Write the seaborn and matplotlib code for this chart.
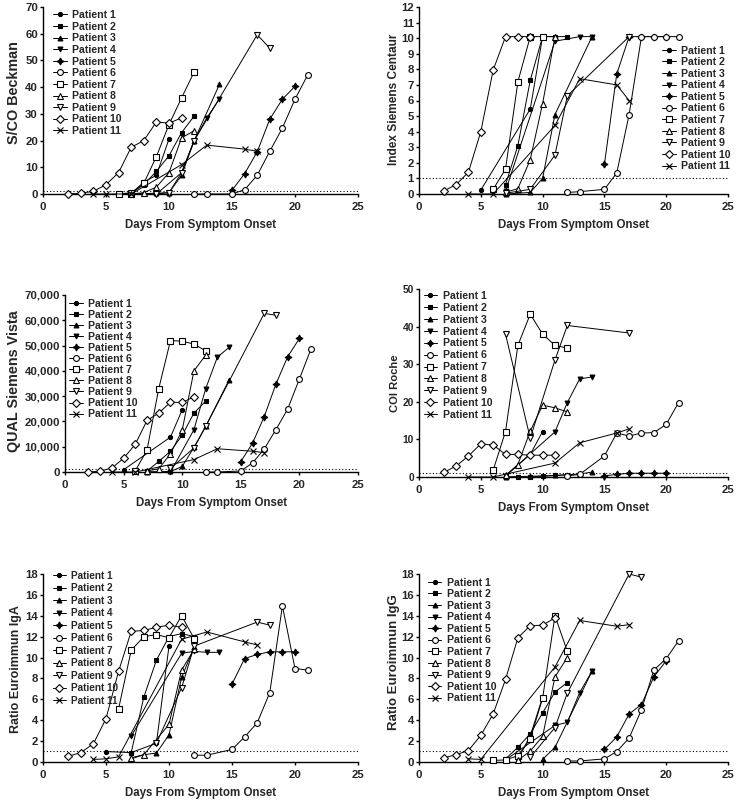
import matplotlib
matplotlib.use("Agg")
import matplotlib.pyplot as plt
import seaborn as sns
from matplotlib.ticker import FuncFormatter, MultipleLocator

sns.set_theme(style="ticks")
plt.rcParams["font.family"] = ["Liberation Sans", "DejaVu Sans"]
plt.rcParams["font.weight"] = "bold"
plt.rcParams["axes.labelweight"] = "bold"

patients = [f"Patient {i}" for i in range(1, 12)]

# ---- S/CO Beckman ----
beckman_days = [
    [7, 8, 9, 10],
    [6, 7, 8, 9, 10, 11, 12],
    [7, 9, 10, 11, 12, 14],
    [7, 9, 11, 12, 13, 14],
    [15, 16, 17, 18, 19, 20],
    [12, 13, 15, 16, 17, 18, 19, 20, 21],
    [6, 7, 8, 9, 10, 11, 12],
    [7, 8, 9, 10, 11, 12],
    [9, 10, 11, 12, 17, 18],
    [2, 3, 4, 5, 6, 7, 8, 9, 10, 11],
    [4, 5, 7, 11, 13, 16, 17],
]
beckman_vals = [
    [0, 4.5, 7, 20.6],
    [0, 0.3, 3.5, 8.5, 14.3, 23, 29.2],
    [0, 0.3, 0.5, 7, 20, 41],
    [0, 0, 8, 20, 28.5, 35.5],
    [1.4, 7.6, 15.8, 28, 35.5, 40.3],
    [0, 0, 0, 1.6, 7, 16, 24.7, 35.5, 44.5],
    [0, 0.5, 4, 14, 26, 36, 45.7],
    [0, 0.5, 2.6, 8, 21, 23.7],
    [0, 0.5, 8, 20, 59.6, 54.6],
    [0, 0.3, 1, 3.5, 8, 17.5, 20, 27, 26.5, 28.5],
    [0, 0, 0, 11, 18.3, 16.8, 16],
]

# ---- Index Siemens Centaur ----
centaur_days = [
    [5, 9, 10, 11],
    [7, 8, 9, 10, 11, 12],
    [7, 9, 10, 11, 14],
    [7, 11, 13, 14],
    [15, 16, 17, 18, 19, 20],
    [12, 13, 15, 16, 17, 18, 19, 20, 21],
    [6, 7, 8, 9, 10],
    [7, 8, 9, 10, 11],
    [7, 9, 11, 12, 17],
    [2, 3, 4, 5, 6, 7, 8, 9],
    [4, 6, 11, 13, 16, 17],
]
centaur_vals = [
    [0.25, 5.45, 10.1, 10.1],
    [0.6, 3.1, 7.3, 10.1, 10.1, 10.1],
    [0, 0.1, 1.0, 5.1, 10.1],
    [0.2, 9.8, 10.1, 10.1],
    [1.9, 7.7, 10.1, 10.1, 10.1, 10.1],
    [0.1, 0.15, 0.3, 1.35, 5.1, 10.1, 10.1, 10.1, 10.1],
    [0.3, 1.6, 7.2, 10.1, 10.1],
    [0.1, 0.35, 2.2, 5.8, 10.1],
    [0.05, 0.3, 2.5, 6.3, 10.1],
    [0.2, 0.6, 1.4, 4.0, 7.95, 10.1, 10.1, 10.1],
    [0, 0, 4.4, 7.4, 7.0, 6.0],
]

# ---- QUAL Siemens Vista ----
vista_days = [
    [5, 9, 10],
    [7, 8, 9, 10, 11, 12],
    [7, 9, 10, 11, 12, 14],
    [7, 9, 11, 12, 13, 14],
    [15, 16, 17, 18, 19, 20],
    [12, 13, 15, 16, 17, 18, 19, 20, 21],
    [6, 7, 8, 9, 10, 11, 12],
    [7, 8, 9, 10, 11, 12],
    [9, 11, 12, 17, 18],
    [2, 3, 4, 5, 6, 7, 8, 9, 10, 11],
    [4, 6, 11, 13, 16, 17],
]
vista_vals = [
    [900, 13800, 24600],
    [400, 4200, 8200, 14500, 23300, 28000],
    [0, 200, 2200, 9700, 18000, 36400],
    [0, 0, 16700, 32900, 45400, 49300],
    [4100, 11400, 21900, 34800, 45600, 52800],
    [0, 0, 400, 3600, 9100, 16800, 24900, 36800, 48800],
    [500, 8700, 33000, 52000, 51700, 50600, 47900],
    [400, 1300, 7200, 16500, 40000, 46200],
    [1400, 9500, 18000, 62700, 62000],
    [0, 300, 1600, 5400, 11000, 20400, 23300, 27600, 27500, 29700],
    [0, 0, 4900, 9200, 8200, 7700],
]

# ---- COI Roche ----
roche_days = [
    [7, 9, 10],
    [7, 8, 9, 10, 11, 12],
    [7, 9, 11, 12, 13, 14],
    [7, 11, 12, 13, 14],
    [15, 16, 17, 18, 19, 20],
    [12, 13, 15, 16, 17, 18, 19, 20, 21],
    [6, 7, 8, 9, 10, 11, 12],
    [7, 8, 9, 10, 11, 12],
    [7, 9, 11, 12, 17],
    [2, 3, 4, 5, 6, 7, 8, 9, 10, 11],
    [4, 6, 11, 13, 16, 17],
]
roche_vals = [
    [0.3, 6.0, 12.1],
    [0, 0, 0, 0.2, 0.4, 0.6],
    [0, 0.2, 0.4, 0.6, 0.8, 1.3],
    [0.3, 12, 19.8, 26.1, 26.6],
    [0.3, 0.7, 1.0, 1.0, 1.0, 1.0],
    [0.3, 0.7, 5.6, 11.7, 10.9, 11.7, 11.8, 14.0, 19.8],
    [1.8, 12.1, 35, 43.3, 38, 35, 34.3],
    [0.4, 3.3, 12.2, 19.1, 18.4, 17.3],
    [38, 10.3, 31.1, 40.3, 38.3],
    [1.2, 2.9, 5.6, 8.8, 8.5, 6.0, 6.0, 5.8, 5.8, 5.8],
    [0, 0, 3.7, 9.1, 11.7, 12.8],
]

# ---- Ratio Euroimmun IgA ----
iga_days = [
    [5, 7, 9, 10],
    [7, 8, 9, 10, 11, 12],
    [7, 8, 9, 10, 11, 12],
    [7, 11, 12, 13, 14],
    [15, 16, 17, 18, 19, 20],
    [12, 13, 15, 16, 17, 18, 19, 20, 21],
    [6, 7, 8, 9, 10, 11, 12],
    [7, 8, 10, 11, 12],
    [9, 11, 12, 17, 18],
    [2, 3, 4, 5, 6, 7, 8, 9, 10, 11],
    [4, 5, 6, 11, 13, 16, 17],
]
iga_vals = [
    [1.0, 0.9, 1.8, 11.1],
    [0.9, 6.2, 9.75, 12, 12.3, 12.0],
    [0.3, 0.7, 0.85, 2.6, 8.1, 11.0],
    [2.5, 10.4, 10.6, 10.5, 10.5],
    [7.45, 9.9, 10.3, 10.55, 10.55, 10.55],
    [0.65, 0.65, 1.2, 2.4, 3.75, 6.65, 14.95, 8.95, 8.8],
    [5.1, 10.7, 12.0, 12.2, 11.9, 14.0, 11.8],
    [0.4, 0.7, 3.6, 8.8, 10.8],
    [1.8, 7.1, 11.1, 13.4, 13.1],
    [0.55, 0.9, 1.75, 4.15, 8.7, 12.5, 12.6, 12.9, 13.1, 12.9],
    [0.25, 0.3, 0.5, 11.75, 12.45, 11.5, 11.2],
]

# ---- Ratio Euroimmun IgG ----
igg_days = [
    [8, 9, 10],
    [7, 8, 9, 10, 11, 12],
    [10, 11, 14],
    [7, 11, 12, 13, 14],
    [15, 16, 17, 18, 19, 20],
    [12, 13, 15, 16, 17, 18, 19, 20, 21],
    [6, 7, 8, 9, 10, 11, 12],
    [8, 9, 10, 11, 12],
    [9, 11, 12, 17, 18],
    [2, 3, 4, 5, 6, 7, 8, 9, 10, 11],
    [4, 5, 11, 13, 16, 17],
]
igg_vals = [
    [0.25, 2.5, 6.2],
    [0.3, 1.4, 2.7, 4.7, 6.7, 7.6],
    [0.25, 1.4, 8.7],
    [0.2, 3.5, 3.8, 6.65, 8.7],
    [1.2, 2.4, 4.6, 5.5, 8.15, 9.7],
    [0.1, 0.1, 0.3, 1.0, 2.3, 5.0, 8.8, 9.9, 11.6],
    [0.15, 0.2, 0.6, 2.2, 6.1, 14.0, 10.6],
    [0.15, 1.05, 2.45, 8.15, 10.0],
    [0.45, 3.3, 6.6, 18.0, 17.7],
    [0.4, 0.7, 1.1, 2.55, 4.6, 7.9, 11.9, 13.05, 13.1, 13.8],
    [0.3, 0.25, 9.1, 13.55, 13.0, 13.15],
]

# marker styles
markers = ["o", "s", "^", "v", (4, 1, 0), "o", "s", "^", "v", "D", "x"]
filled = [True, True, True, True, True, False, False, False, False, False, False]
msizes = [3.0, 3.5, 3.5, 3.5, 5.0, 4.2, 4.2, 4.5, 4.5, 4.0, 4.0]

W, H = 739, 809
fig = plt.figure(figsize=(W / 100, H / 100), dpi=100)


def add_axes(l, r, t, b):
    return fig.add_axes([l / W, 1 - b / H, (r - l) / W, (b - t) / H])


panels = [
    # days, vals, ylabel, ylabel size, ylabel pos (axes), tick size, ymax, ystep, cutoff,
    # rect(l,r,t,b), legend anchor, legend fontsize, labelspacing
    (beckman_days, beckman_vals, "S/CO Beckman", 10.4, (-0.092, 0.54), 8.2, 70, 10, 1.0,
     (43, 358, 7, 194), (0.032, 0.983), 7.6, 0.15),
    (centaur_days, centaur_vals, "Index Siemens Centaur", 8.6, (-0.082, 0.505), 8.2, 12, 1, 1.0,
     (419, 728, 7, 194), (0.787, 0.794), 7.6, 0.15),
    (vista_days, vista_vals, "QUAL Siemens Vista", 10.4, (-0.175, 0.514), 8.2, 70000, 10000, 1000,
     (65, 358, 295, 472), (0.015, 0.979), 7.6, 0.1),
    (roche_days, roche_vals, "COI Roche", 8.1, (-0.077, 0.497), 7.4, 50, 10, 1.0,
     (419, 728, 289, 477), (0.015, 0.99), 7.6, 0.18),
    (iga_days, iga_vals, "Ratio Euroimmun IgA", 9.0, (-0.085, 0.495), 8.2, 18, 2, 1.1,
     (43, 358, 574, 762), (0.031, 1.016), 7.2, 0.25),
    (igg_days, igg_vals, "Ratio Euroimmun IgG", 9.5, (-0.082, 0.53), 8.2, 18, 2, 1.1,
     (419, 728, 574, 762), (0.028, 0.981), 7.6, 0.15),
]

for (days, vals, ylabel, ysize, ypos, tsize, ymax, ystep, cutoff, rect, lanchor,
     lfs, lsp) in panels:
    ax = add_axes(*rect)
    for i in range(11):
        fc = "black" if filled[i] else "white"
        sns.lineplot(
            x=days[i], y=vals[i], ax=ax, color="black", linewidth=0.7,
            marker=markers[i], markersize=msizes[i], markerfacecolor=fc,
            markeredgecolor="black", markeredgewidth=0.8,
            label=patients[i], clip_on=False, zorder=3,
        )
    ax.axhline(cutoff, color="black", linestyle=(0, (1, 2)), linewidth=0.8, zorder=1)
    ax.set_xlim(0, 25)
    ax.set_ylim(0, ymax)
    ax.xaxis.set_major_locator(MultipleLocator(5))
    ax.yaxis.set_major_locator(MultipleLocator(ystep))
    if ymax > 1000:
        ax.yaxis.set_major_formatter(FuncFormatter(lambda v, p: f"{int(v):,}"))
    ax.set_xlabel("Days From Symptom Onset", fontsize=8.3, fontweight="bold", labelpad=5)
    ax.set_ylabel(ylabel, fontsize=ysize, fontweight="bold", va="center")
    ax.yaxis.set_label_coords(*ypos)
    sns.despine(ax=ax)
    for sp in ("left", "bottom"):
        ax.spines[sp].set_linewidth(1.0)
        ax.spines[sp].set_color("black")
    ax.tick_params(axis="both", which="major", length=2.4, width=1.0, color="black",
                   labelsize=tsize)
    ax.tick_params(axis="y", pad=1.2)
    ax.tick_params(axis="x", pad=3.5, labelsize=8.2)
    for lab in ax.get_xticklabels() + ax.get_yticklabels():
        lab.set_fontweight("bold")
    ax.set_facecolor("white")
    ax.grid(False)
    leg = ax.legend(loc="upper left", bbox_to_anchor=lanchor, frameon=False,
                    fontsize=lfs, handlelength=1.3, handletextpad=0.5,
                    labelspacing=lsp, borderpad=0.0, borderaxespad=0.0)
    for t in leg.get_texts():
        t.set_fontweight("bold")

fig.savefig("out.png", dpi=100, facecolor="white")
